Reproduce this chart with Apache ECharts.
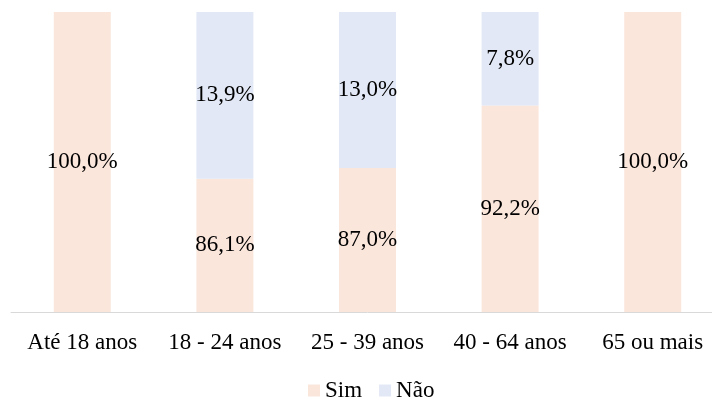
<!DOCTYPE html>
<html lang="pt">
<head>
    <meta charset="UTF-8">
    <title>Sim / Não por faixa etária</title>
    <script src="https://cdn.jsdelivr.net/npm/echarts@6/dist/echarts.min.js"></script>
    <style>
        * {padding: 0; margin: 0;}
        body {background: #fff; overflow: hidden;}
        /* the plot runs a little past the right edge, as in the source picture */
        #main {width: 724px; height: 402px;}
    </style>
</head>
<body>
    <div id="main"></div>

    <script>
        // data
        const categories = ['Até 18 anos', '18 - 24 anos', '25 - 39 anos', '40 - 64 anos', '65 ou mais'];
        const simValues = [100.0, 86.1, 87.0, 92.2, 100.0];
        const naoValues = [null, 13.9, 13.0, 7.8, null];

        const font = '"Liberation Serif", "Times New Roman", serif';

        function pct(params) {
            if (params.value == null) return '';
            return params.value.toFixed(1).replace('.', ',') + '%';
        }

        const chart = echarts.init(document.getElementById('main'));

        chart.setOption({
            animation: false,
            grid: { left: 11, right: 0, top: 12, height: 300 },
            legend: {
                data: ['Sim', 'Não'],
                left: 303,
                top: 374,
                icon: 'rect',
                itemWidth: 12,
                itemHeight: 12,
                itemGap: 17,
                textStyle: { fontFamily: font, fontSize: 23, color: '#000' }
            },
            xAxis: {
                type: 'category',
                data: categories,
                axisTick: { show: false },
                axisLine: { lineStyle: { color: '#d9d9d9', width: 1 } },
                axisLabel: { fontFamily: font, fontSize: 23, color: '#000', margin: 19, interval: 0 }
            },
            yAxis: {
                type: 'value',
                min: 75,
                max: 100,
                show: false
            },
            series: [
                {
                    name: 'Sim',
                    type: 'bar',
                    stack: 'total',
                    barWidth: 57,
                    clip: true,
                    data: simValues,
                    itemStyle: { color: '#fbe6dc' },
                    label: {
                        show: true,
                        position: 'inside',
                        formatter: pct,
                        fontFamily: font,
                        fontSize: 23,
                        color: '#000'
                    }
                },
                {
                    name: 'Não',
                    type: 'bar',
                    stack: 'total',
                    barWidth: 57,
                    clip: true,
                    data: naoValues,
                    itemStyle: { color: '#e2e8f5' },
                    label: {
                        show: true,
                        position: 'inside',
                        formatter: pct,
                        fontFamily: font,
                        fontSize: 23,
                        color: '#000'
                    }
                }
            ]
        });
    </script>
</body>
</html>
